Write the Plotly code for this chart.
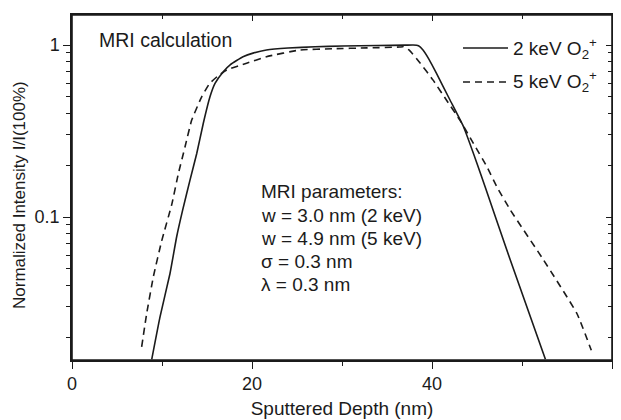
import plotly.graph_objects as go

# ---------------- data ----------------
depth_2kev = [8.86, 9.78, 10.89, 11.63, 12.3, 13.11, 13.86, 14.59, 15.33, 15.89, 16.81, 17.6,
              19.0, 20.2, 21.6, 24.0, 27.0, 30.0, 34.0, 37.0, 37.9, 38.5, 39.0, 39.7, 40.5,
              42.0, 43.5, 45.0, 45.9, 48.7, 52.6]
intensity_2kev = [0.0149, 0.0263, 0.047, 0.0768, 0.11, 0.164, 0.234, 0.351, 0.50, 0.598, 0.70, 0.77,
                  0.855, 0.9, 0.935, 0.96, 0.977, 0.986, 0.993, 0.998, 1.0, 0.99, 0.935, 0.82, 0.684,
                  0.479, 0.335, 0.205, 0.15, 0.0562, 0.0149]

depth_5kev = [7.74, 8.3, 9.04, 9.96, 11.08, 11.81, 12.56, 13.3, 14.41, 15.3, 16.2, 17.2, 19.4, 21.6,
              25.3, 29.0, 32.8, 36.4, 36.8, 37.5, 38.7, 40.1, 41.6, 43.1, 44.6, 46.1,
              47.2, 48.7, 52.4, 56.1, 57.7]
intensity_5kev = [0.0176, 0.0275, 0.045, 0.0725, 0.118, 0.178, 0.256, 0.366, 0.50, 0.598, 0.66, 0.716,
                  0.783, 0.855, 0.935, 0.951, 0.962, 0.973, 0.977, 0.93, 0.783, 0.627, 0.479, 0.366,
                  0.268, 0.196, 0.15, 0.11, 0.0562, 0.0275, 0.0168]

series_names = ["2 keV O<sub>2</sub><sup>+</sup>", "5 keV O<sub>2</sub><sup>+</sup>"]

x_ticks = [0, 20, 40, 60]
x_minor = [10, 30, 50]
y_ticks = [0.1, 1]
y_tick_labels = ["0.1", "1"]
y_minor = [0.02, 0.03, 0.04, 0.05, 0.06, 0.07, 0.08, 0.09,
           0.2, 0.3, 0.4, 0.5, 0.6, 0.7, 0.8, 0.9]

x_title = "Sputtered Depth (nm)"
y_title = "Normalized Intensity I/I(100%)"
param_lines = ["MRI parameters:", "w = 3.0 nm (2 keV)", "w = 4.9 nm (5 keV)",
               "σ = 0.3 nm", "λ = 0.3 nm"]

x_range = [0, 60]
y_range_log = [-1.831, 0.1744]

# ---------------- styling ----------------
INK = "#1b1b1b"
FONT = "Liberation Sans, Arial, sans-serif"
DASH = "7px,5px"
# the page body adds an 8px offset, so the figure is 8px smaller and the margins shifted
OFF = 8
FIG_W, FIG_H = 621 - OFF, 420 - OFF
PLOT_TOP, PLOT_BOTTOM, PLOT_LEFT, PLOT_RIGHT = 15, 360, 72, 612   # page pixels
PLOT_H = PLOT_BOTTOM - PLOT_TOP
PLOT_W = PLOT_RIGHT - PLOT_LEFT


def py(pix_y):
    return (PLOT_BOTTOM - pix_y) / PLOT_H


def px(pix_x):
    return (pix_x - PLOT_LEFT) / PLOT_W


fig = go.Figure()
fig.add_trace(go.Scatter(x=depth_2kev, y=intensity_2kev, mode="lines", name=series_names[0],
                         line=dict(color=INK, width=1.6, shape="spline", smoothing=0.4),
                         showlegend=False))
fig.add_trace(go.Scatter(x=depth_5kev, y=intensity_5kev, mode="lines", name=series_names[1],
                         line=dict(color=INK, width=1.6, dash=DASH, shape="spline", smoothing=0.4),
                         showlegend=False))
fig.add_trace(go.Scatter(x=[30], y=[0.5], xaxis="x2", yaxis="y2", mode="markers",
                         marker=dict(opacity=0), showlegend=False, hoverinfo="skip"))

axis_common = dict(showline=True, linecolor=INK, linewidth=1.5, showgrid=False, zeroline=False,
                   tickcolor=INK, tickwidth=1.2, automargin=False)

fig.update_layout(
    width=FIG_W, height=FIG_H,
    margin=dict(l=PLOT_LEFT - OFF, r=621 - PLOT_RIGHT, t=PLOT_TOP - OFF, b=420 - PLOT_BOTTOM),
    paper_bgcolor="white", plot_bgcolor="white",
    font=dict(family=FONT, color=INK, size=18),
    xaxis=dict(range=x_range, tickvals=x_ticks, ticks="outside", ticklen=7,
               minor=dict(tickvals=x_minor, ticks="outside", ticklen=4, tickcolor=INK),
               tickfont=dict(size=18),
               title=dict(text=x_title, font=dict(size=19), standoff=8),
               **axis_common),
    yaxis=dict(type="log", range=y_range_log, tickvals=y_ticks, ticktext=y_tick_labels,
               ticks="outside", ticklen=7,
               minor=dict(tickvals=y_minor, ticks="outside", ticklen=4, tickcolor=INK),
               tickfont=dict(size=18),
               **axis_common),
    xaxis2=dict(range=x_range, overlaying="x", side="top", tickvals=x_ticks, ticks="inside",
                ticklen=6, showticklabels=False,
                minor=dict(tickvals=x_minor, ticks="inside", ticklen=4, tickcolor=INK),
                **axis_common),
    yaxis2=dict(type="log", range=y_range_log, overlaying="y", side="right", tickvals=y_ticks,
                ticks="inside", ticklen=6, showticklabels=False,
                minor=dict(tickvals=y_minor, ticks="inside", ticklen=4, tickcolor=INK),
                **axis_common),
)

# plot frame
fig.add_shape(type="rect", xref="paper", yref="paper", x0=0, x1=1, y0=0, y1=1,
              line=dict(color=INK, width=1.6), layer="above")

# y-axis title (placed as a rotated annotation to match the reference's vertical centre)
fig.add_annotation(xref="paper", yref="paper", x=px(19), y=py(195), xanchor="center",
                   yanchor="middle", textangle=-90, text=y_title, showarrow=False,
                   font=dict(size=17, color=INK))

# text annotations
fig.add_annotation(xref="paper", yref="paper", x=px(97), y=py(40), xanchor="left", yanchor="middle",
                   text="MRI calculation", showarrow=False, font=dict(size=19.5, color=INK))
param_y = [192, 215, 238, 261, 284]
for line_text, yy in zip(param_lines, param_y):
    fig.add_annotation(xref="paper", yref="paper", x=px(259), y=py(yy), xanchor="left",
                       yanchor="middle", text=line_text, showarrow=False,
                       font=dict(size=19, color=INK))

# manual legend
legend_rows_y = [48, 82]
dashes = ["solid", DASH]
for name, yy, dsh in zip(series_names, legend_rows_y, dashes):
    fig.add_shape(type="line", xref="paper", yref="paper", x0=px(463), x1=px(508),
                  y0=py(yy), y1=py(yy), line=dict(color=INK, width=1.6, dash=dsh))
    fig.add_annotation(xref="paper", yref="paper", x=px(511), y=py(yy), xanchor="left",
                       yanchor="middle", text=name, showarrow=False,
                       font=dict(size=19, color=INK))

fig.write_html("out.html")
